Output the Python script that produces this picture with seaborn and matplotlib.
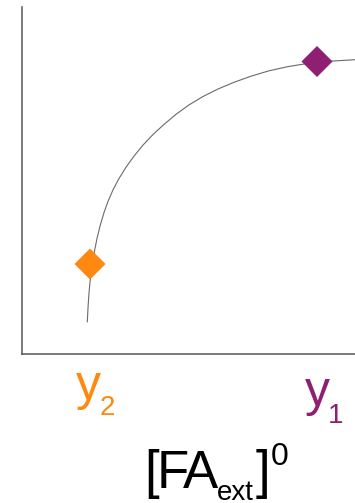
import matplotlib
matplotlib.use("Agg")
import matplotlib.pyplot as plt
import seaborn as sns
import pandas as pd

# curve (arbitrary units)
curve_x = [65.3, 66, 67, 68, 70, 72.5, 75, 78, 82, 86, 91, 97, 104, 112, 121, 131,
           142, 154, 167, 181, 196, 212, 229, 247, 266, 286, 308, 333]
curve_y = [32, 46, 61, 72, 88, 103, 115.5, 127.8, 141.4, 152.6, 164.1, 175.5, 186.7,
           197.9, 208.9, 219.5, 229.6, 239.7, 249.1, 257.5, 265, 271.7, 277.8, 283.2,
           287.4, 290.6, 292.8, 294.3]

# the two marked points
point_names = ["y2", "y1"]
point_x = [68, 295]
point_y = [90, 292.5]
point_colors = ["#ff8811", "#8e1f73"]

curve = pd.DataFrame({"x": curve_x, "y": curve_y})
points = pd.DataFrame({"name": point_names, "x": point_x, "y": point_y})

sns.set_style("white")
plt.rcParams["font.family"] = ["Liberation Sans", "DejaVu Sans"]

W, H = 355, 503
fig = plt.figure(figsize=(W / 100, H / 100), dpi=100)
ax = fig.add_axes([22 / W, 1 - 354 / H, 1 - 22 / W, (354 - 7) / H])

sns.lineplot(data=curve, x="x", y="y", color="#6a6a6a", linewidth=0.8, ax=ax, sort=False)
sns.scatterplot(data=points, x="x", y="y", hue="name", palette=point_colors,
                marker="D", s=250, linewidth=0, legend=False, ax=ax, zorder=3)

ax.set_xlim(0, 333)
ax.set_ylim(0, 347)
ax.set_xticks([])
ax.set_yticks([])
ax.set_xlabel("")
ax.set_ylabel("")
ax.spines["top"].set_visible(False)
ax.spines["right"].set_visible(False)
for side in ["left", "bottom"]:
    ax.spines[side].set_color("#555555")
    ax.spines[side].set_linewidth(1.1)


def put(px, py, s, size, color="black"):
    # place a text piece by its left edge and baseline in pixels
    fig.text(px / W, 1 - py / H, s, fontsize=size, color=color,
             ha="left", va="baseline")


# point labels
put(76, 400, "y", 36, point_colors[0])
put(100, 415, "2", 20, point_colors[0])
put(305, 406, "y", 36, point_colors[1])
put(328, 423, "1", 20, point_colors[1])

# axis label [FA_ext]^0, glyph by glyph to keep it narrow like the original
put(144.5, 488, "[", 38)
put(157, 488, "F", 38)
put(183, 488, "A", 38)
put(216.5, 500, "ext", 20)
put(256, 488, "]", 38)
put(271, 465, "0", 23)

fig.savefig("out.png", dpi=100)
